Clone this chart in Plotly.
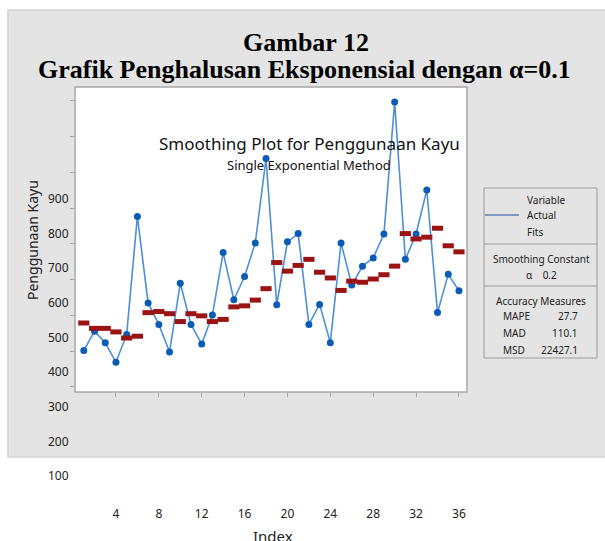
import plotly.graph_objects as go

# ---- data ----
index = list(range(1, 37))
actual = [502, 556, 524, 469, 547, 877, 635, 575, 498, 690, 575, 520,
          601, 776, 644, 709, 803, 1039, 630, 806, 829, 575, 631, 524,
          803, 685, 738, 761, 828, 1197, 757, 828, 951, 608, 715, 669]
fits = [579, 564, 564, 554, 537, 542, 608, 611, 605, 583, 605, 599,
        583, 589, 624, 627, 643, 675, 748, 724, 740, 757, 721, 705,
        670, 696, 693, 702, 714, 738, 829, 814, 819, 844, 795, 778]
x_ticks = [4, 8, 12, 16, 20, 24, 28, 32, 36]
y_ticks = [400, 500, 600, 700, 800, 900, 1000, 1100, 1200]
y_labels = [100, 200, 300, 400, 500, 600, 700, 800, 900]

W, H = 605, 541
ML, MR, MT, MB = 75, 138, 10, 10
PH = H - MT - MB  # paper height in px
PW = W - ML - MR

def py(pix):  # pixel y -> paper fraction
    return (H - MB - pix) / PH

def px(pix):  # pixel x -> paper fraction
    return (pix - ML) / PW

fig = go.Figure()

fig.add_trace(go.Scatter(
    x=index, y=actual, mode="lines+markers", name="Actual",
    line=dict(color="#4f8fd6", width=1.6),
    marker=dict(color="#0b5cb5", size=7),
    showlegend=False, xaxis="x", yaxis="y"))

fig.add_trace(go.Scatter(
    x=index, y=fits, mode="markers", name="Fits",
    marker=dict(symbol="line-ew", size=8, color="#9b1414",
                line=dict(color="#9b1414", width=5)),
    showlegend=False, xaxis="x", yaxis="y"))

# invisible trace so the displaced label axes are drawn
fig.add_trace(go.Scatter(
    x=[index[0]], y=[y_labels[0]], mode="markers",
    marker=dict(opacity=0), hoverinfo="skip", showlegend=False,
    xaxis="x2", yaxis="y2"))

axis_grey = "#a6a6a6"
Y2_BOTTOM, Y2_TOP = 505, 190
PX_PER_100 = 34.625

fig.update_layout(
    width=W, height=H,
    margin=dict(l=ML, r=MR, t=MT, b=MB),
    paper_bgcolor="white",
    plot_bgcolor="rgba(0,0,0,0)",
    font=dict(family="Noto Sans", color="#222222"),
    xaxis=dict(
        domain=[0, 1], range=[0.18, 36.75], anchor="y",
        tickvals=x_ticks, showticklabels=False,
        ticks="outside", ticklen=4, tickcolor=axis_grey,
        showline=False, showgrid=False, zeroline=False,
    ),
    xaxis2=dict(
        domain=[0, 1], range=[0.18, 36.75], anchor="y2",
        tickvals=x_ticks, ticktext=[str(v) for v in x_ticks],
        ticks="", showline=False, showgrid=False, zeroline=False,
        tickfont=dict(size=12, color="#222222", family="Noto Sans"),
    ),
    yaxis=dict(
        domain=[py(392), py(87)], range=[386, 1239],
        tickvals=y_ticks, showticklabels=False,
        ticks="outside", ticklen=4, tickcolor=axis_grey,
        showline=False, showgrid=False, zeroline=False,
    ),
    yaxis2=dict(
        domain=[py(Y2_BOTTOM), py(Y2_TOP)],
        range=[100 - (Y2_BOTTOM - 476) / (PX_PER_100 / 100),
               900 + (199 - Y2_TOP) / (PX_PER_100 / 100)],
        anchor="free", position=0, side="left",
        tickvals=y_labels, ticktext=[str(v) for v in y_labels],
        ticks="outside", ticklen=4, tickcolor="rgba(0,0,0,0)",
        showline=False, showgrid=False, zeroline=False,
        tickfont=dict(size=12, color="#222222", family="Noto Sans"),
    ),
)

shapes = []
# grey panel
shapes.append(dict(type="rect", xref="paper", yref="paper",
                   x0=px(8), x1=px(606), y0=py(457), y1=py(10),
                   fillcolor="#e4e4e4", line=dict(color="#d2d2d2", width=1.5),
                   layer="below"))
# white plot area
shapes.append(dict(type="rect", xref="paper", yref="paper",
                   x0=0, x1=1, y0=py(392), y1=py(87),
                   fillcolor="white", line=dict(width=0), layer="below"))
# plot area frame
shapes.append(dict(type="rect", xref="paper", yref="paper",
                   x0=0, x1=1, y0=py(392), y1=py(87),
                   fillcolor="rgba(0,0,0,0)", line=dict(color=axis_grey, width=1.5)))
# cover a stray vertical stroke under the frame's bottom-left corner
shapes.append(dict(type="rect", xref="paper", yref="paper",
                   x0=px(71), x1=px(76.5), y0=py(424), y1=py(393.6),
                   fillcolor="#e4e4e4", line=dict(width=0), layer="above"))
# legend box
shapes.append(dict(type="rect", xref="paper", yref="paper",
                   x0=px(484), x1=px(597), y0=py(358), y1=py(188),
                   fillcolor="rgba(0,0,0,0)", line=dict(color="#9a9a9a", width=1)))
for yy in (244, 286):
    shapes.append(dict(type="line", xref="paper", yref="paper",
                       x0=px(484), x1=px(597), y0=py(yy), y1=py(yy),
                       line=dict(color="#9a9a9a", width=1)))
# Actual legend sample
shapes.append(dict(type="line", xref="paper", yref="paper",
                   x0=px(485), x1=px(519), y0=py(215), y1=py(215),
                   line=dict(color="#1f4f9a", width=1.2)))
fig.update_layout(shapes=shapes)

ann = []
def A(text, x, y, size, xanchor="center", family="Noto Sans", color="#222222", **kw):
    ann.append(dict(text=text, x=px(x), y=py(y), xref="paper", yref="paper",
                    xanchor=xanchor, yanchor="middle", showarrow=False,
                    font=dict(size=size, family=family, color=color), **kw))

A("<b>Gambar 12</b>", 306, 42, 26, family="Liberation Serif", color="black")
A("<b>Grafik Penghalusan Eksponensial dengan α=0.1</b>", 304, 69, 26,
  family="Liberation Serif", color="black")
A("Smoothing Plot for Penggunaan Kayu", 309, 143, 17, color="#111111")
A("Single Exponential Method", 309, 165, 13, color="#111111")
A("Penggunaan Kayu", 32, 240, 14, textangle=-90)
A("Index", 273, 536, 15)

# legend texts
A("Variable", 525, 200, 10, xanchor="left")
A("Actual", 525, 215, 10, xanchor="left")
A("Fits", 525, 232, 10, xanchor="left")
A("Smoothing Constant", 541, 259, 10)
A("α    0.2", 541, 275, 10)
A("Accuracy Measures", 541, 301, 10)
A("MAPE", 501, 316, 10, xanchor="left")
A("27.7", 580, 316, 10, xanchor="right")
A("MAD", 501, 333, 10, xanchor="left")
A("110.1", 580, 333, 10, xanchor="right")
A("MSD", 501, 350, 10, xanchor="left")
A("22427.1", 580, 350, 10, xanchor="right")

fig.update_layout(annotations=ann)

fig.write_html("out.html",
               config={"displayModeBar": False},
               post_script="document.body.style.margin='0';document.body.style.overflow='hidden';")
